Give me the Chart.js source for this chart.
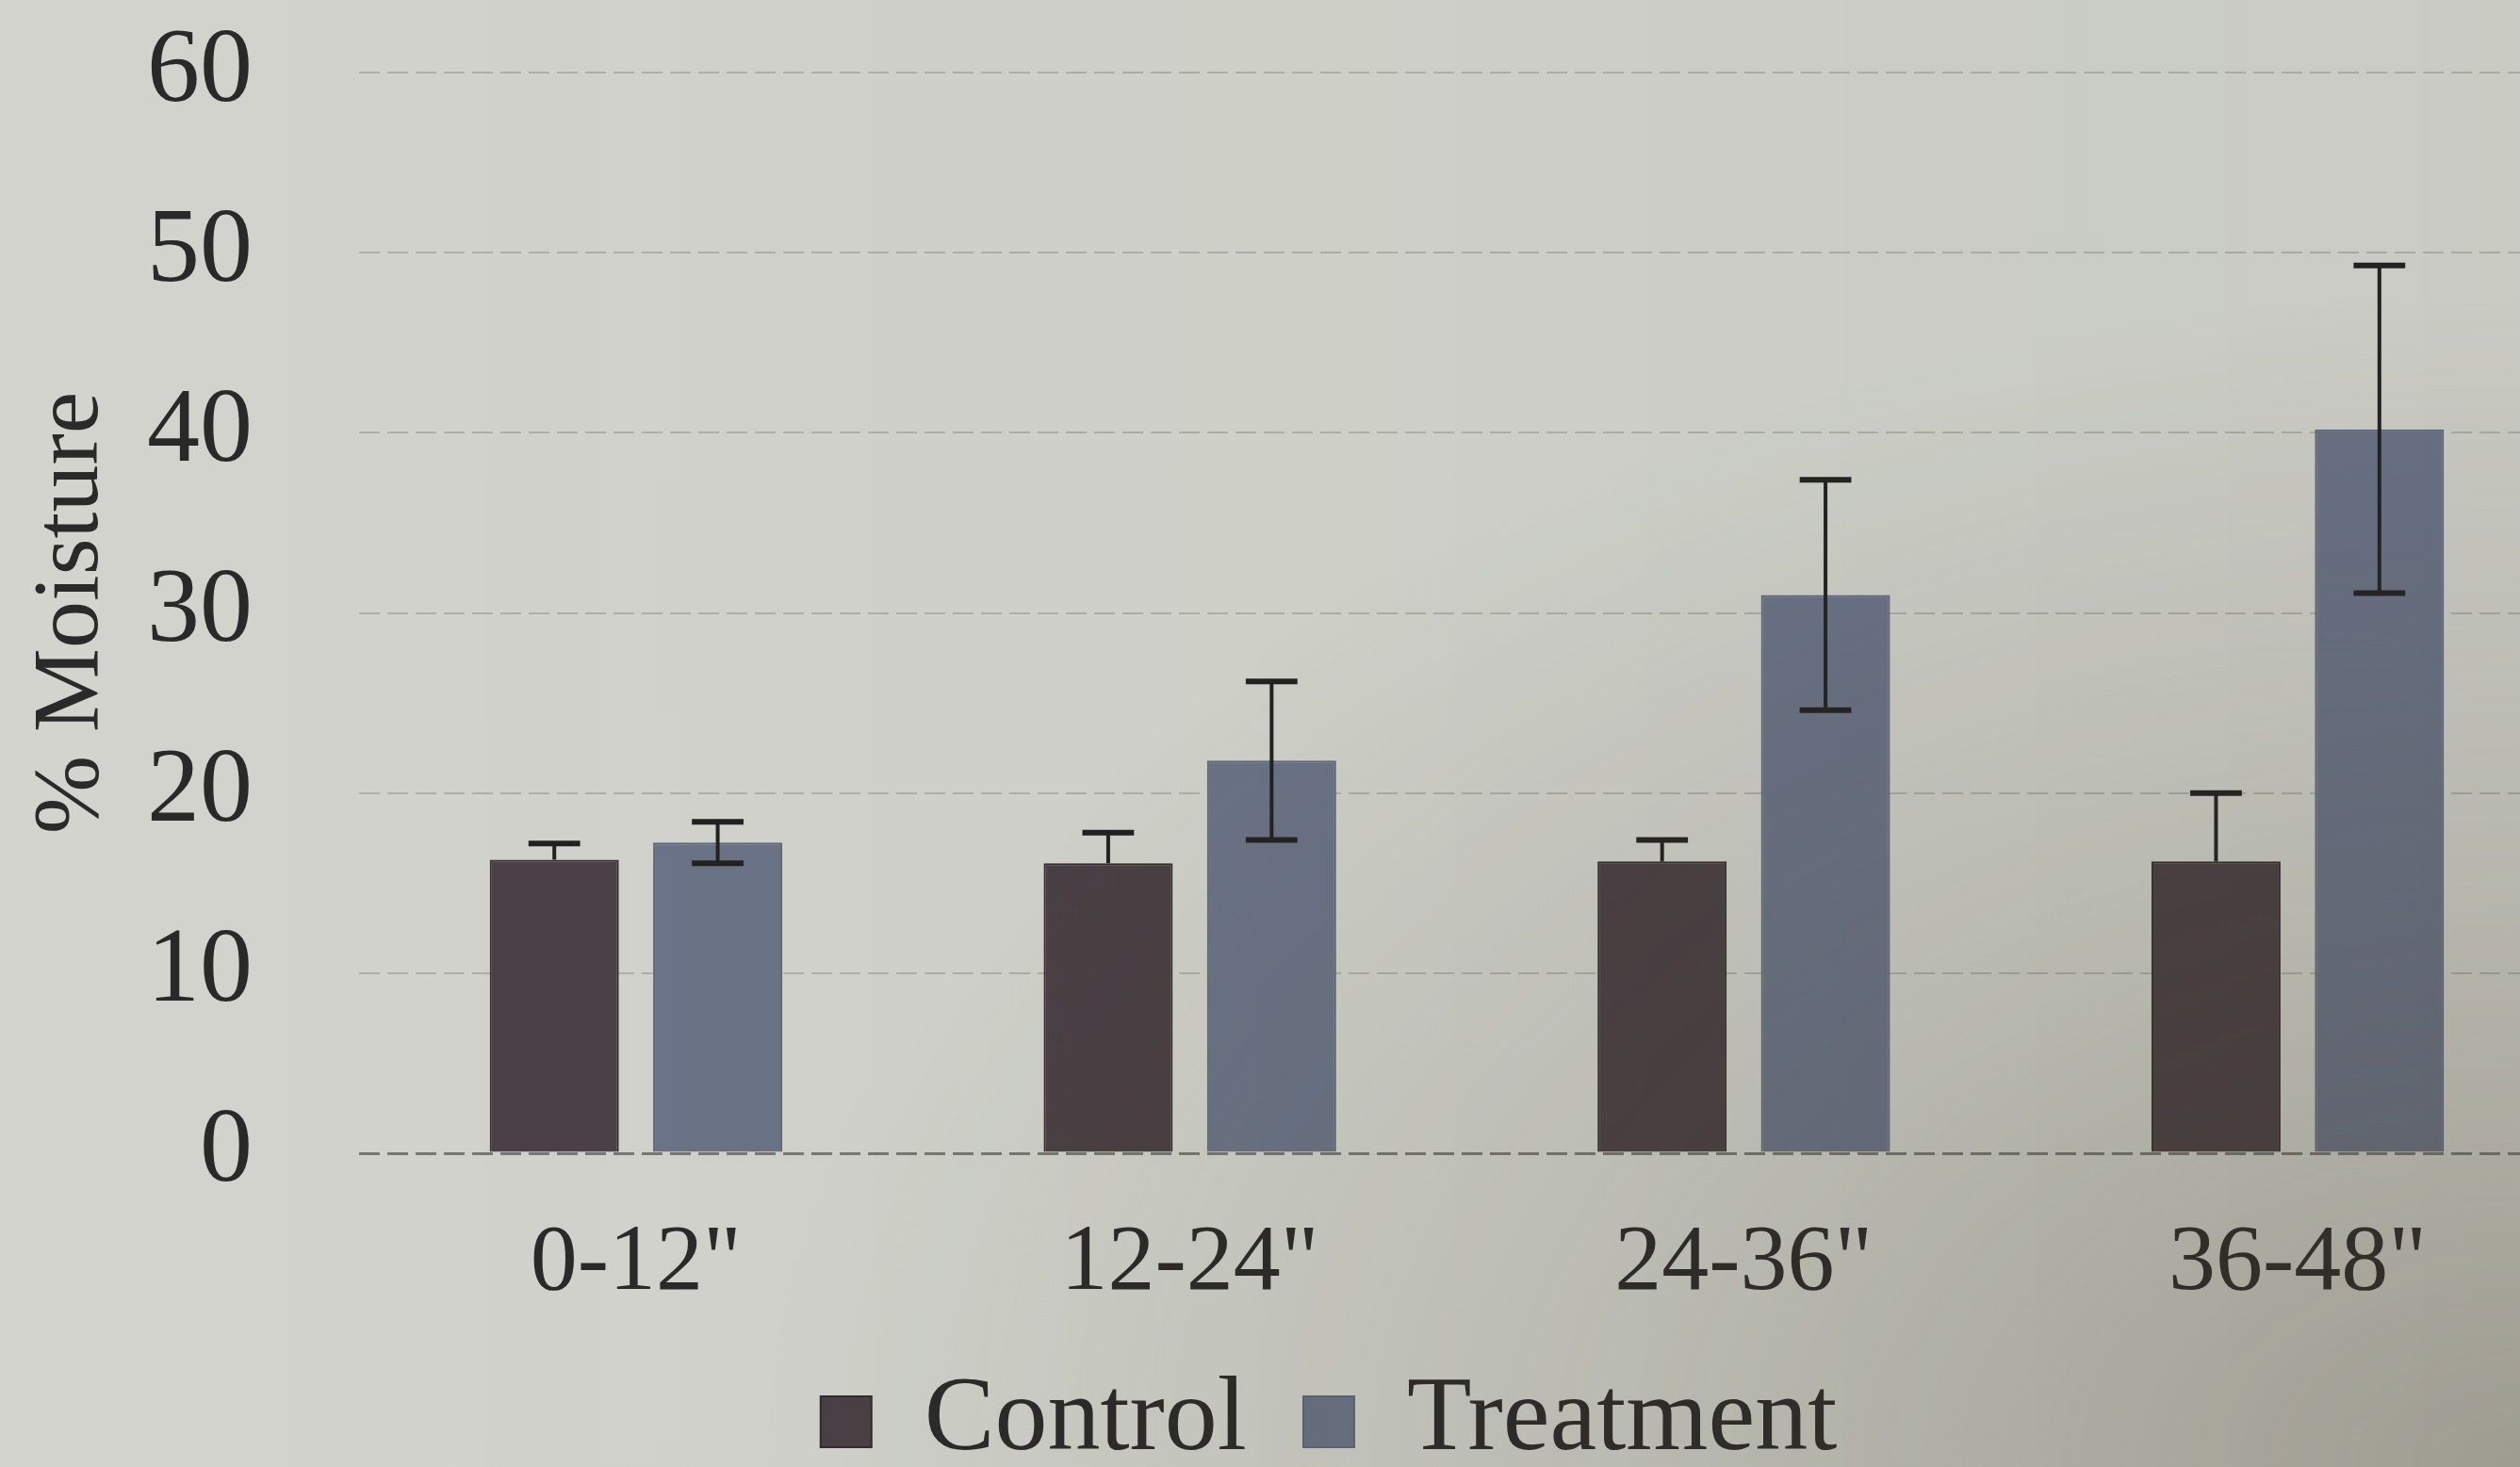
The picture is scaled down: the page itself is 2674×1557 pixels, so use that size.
<!DOCTYPE html>
<html>
<head>
<meta charset="utf-8">
<script src="https://cdn.jsdelivr.net/npm/chart.js@4.4.1/dist/chart.umd.min.js"></script>
<style>
  html, body { margin: 0; padding: 0; width: 2674px; height: 1557px; overflow: hidden; background: #d2d4cd; }
  #wrap { position: relative; width: 2674px; height: 1557px; overflow: hidden; }
  canvas { position: absolute; left: 0; top: 0; }
  #shade { position: absolute; left: 0; top: 0; width: 2674px; height: 1557px; pointer-events: none;
    background:
      radial-gradient(ellipse 70% 80% at 100% 100%, rgba(70,62,42,0.33) 0%, rgba(70,62,42,0.14) 50%, rgba(70,62,42,0) 100%),
      linear-gradient(90deg, rgba(0,0,0,0) 0%, rgba(40,38,30,0.05) 100%);
  }
</style>
</head>
<body>
<div id="wrap">
  <canvas id="c" width="2816" height="1575"></canvas>
  <div id="shade"></div>
</div>
<script>
const categories = ['0-12"', '12-24"', '24-36"', '36-48"'];
const seriesNames = ['Control', 'Treatment'];
const controlValues = [16.3, 16.1, 16.2, 16.2];
const controlErrors = [0.9, 1.7, 1.2, 3.8];
const treatmentValues = [17.25, 21.8, 31.0, 40.2];
const treatmentErrors = [1.15, 4.4, 6.4, 9.1];
const yTicks = [0, 10, 20, 30, 40, 50, 60];
const yTitle = '% Moisture';

const errorsBySeries = [controlErrors, treatmentErrors];
// the lower half of the control error bars is hidden by the dark bar in the original
const showLower = [false, true];
const FONT = "'Liberation Serif', 'Times New Roman', serif";
const TEXT = '#2a2a2a';

const errorBarPlugin = {
  id: 'errorBars',
  afterDatasetsDraw(chart) {
    const ctx = chart.ctx;
    const yScale = chart.scales.y;
    ctx.save();
    ctx.strokeStyle = '#222222';
    chart.data.datasets.forEach((ds, di) => {
      const meta = chart.getDatasetMeta(di);
      const errs = errorsBySeries[di];
      meta.data.forEach((bar, i) => {
        const v = ds.data[i];
        const e = errs[i];
        const yTop = yScale.getPixelForValue(v + e);
        const yBot = showLower[di] ? yScale.getPixelForValue(v - e) : yScale.getPixelForValue(v);
        const x = bar.x;
        const cap = bar.width * 0.2;
        ctx.lineWidth = 4;
        ctx.beginPath();
        ctx.moveTo(x, yTop);
        ctx.lineTo(x, yBot);
        ctx.stroke();
        ctx.lineWidth = 6;
        ctx.beginPath();
        ctx.moveTo(x - cap, yTop);
        ctx.lineTo(x + cap, yTop);
        if (showLower[di]) {
          ctx.moveTo(x - cap, yBot);
          ctx.lineTo(x + cap, yBot);
        }
        ctx.stroke();
      });
    });
    ctx.restore();
  }
};

const CANVAS_H = 1575;
const PAD_LEFT = 88;
const AREA_LEFT = 381;
const AREA_BOTTOM = 1224;

new Chart(document.getElementById('c'), {
  type: 'bar',
  data: {
    labels: categories,
    datasets: [
      { label: seriesNames[0], data: controlValues, backgroundColor: '#4a4045', borderColor: '#332b2f', borderWidth: 2 },
      { label: seriesNames[1], data: treatmentValues, backgroundColor: '#6b7488', borderColor: '#5f677a', borderWidth: 2 }
    ]
  },
  options: {
    responsive: false,
    devicePixelRatio: 1,
    animation: false,
    layout: { padding: { left: PAD_LEFT, right: 84, top: 77, bottom: 0 } },
    datasets: { bar: { categoryPercentage: 0.59, barPercentage: 0.79 } },
    plugins: {
      legend: {
        display: true,
        position: 'bottom',
        labels: {
          color: TEXT,
          font: { family: FONT, size: 112 },
          boxWidth: 54,
          boxHeight: 54,
          padding: 60
        }
      },
      tooltip: { enabled: false }
    },
    scales: {
      x: {
        grid: { display: false },
        border: { display: false },
        ticks: { color: TEXT, font: { family: FONT, size: 100 }, padding: 50, maxRotation: 0 },
        afterFit(scale) {
          const lh = scale.chart.legend ? scale.chart.legend.height : 180;
          scale.height = CANVAS_H - lh - AREA_BOTTOM;
        }
      },
      y: {
        min: 0, max: 60,
        afterBuildTicks(scale) { scale.ticks = yTicks.map(v => ({ value: v })); },
        grid: {
          drawTicks: true,
          tickLength: 103,
          tickColor: 'rgba(0,0,0,0)',
          color: ctx => ctx.tick && ctx.tick.value === 0 ? 'rgba(105,105,100,0.85)' : 'rgba(135,135,128,0.45)',
          lineWidth: ctx => ctx.tick && ctx.tick.value === 0 ? 3 : 2
        },
        border: { display: false, dash: [22, 8] },
        ticks: { color: TEXT, font: { family: FONT, size: 112 }, padding: 10 },
        title: {
          display: true,
          text: yTitle,
          color: TEXT,
          font: { family: FONT, size: 100, lineHeight: 1 },
          padding: { top: 27 - PAD_LEFT, bottom: 0 }
        },
        afterFit(scale) { scale.width = AREA_LEFT - PAD_LEFT; }
      }
    }
  },
  plugins: [errorBarPlugin]
});
</script>
</body>
</html>
